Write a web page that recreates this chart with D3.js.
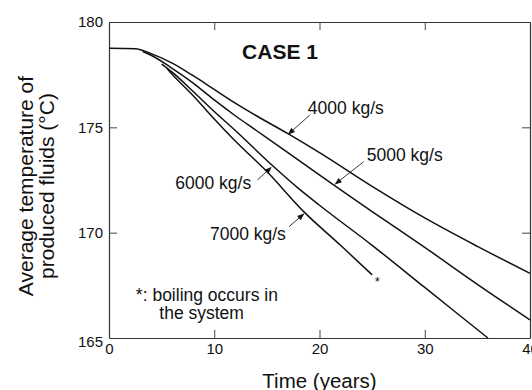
<!DOCTYPE html>
<html>
<head>
<meta charset="utf-8">
<script src="https://cdn.jsdelivr.net/npm/d3@7"></script>
<style>
  body { margin: 0; background: #fff; }
  svg { font-family: "Liberation Sans", Arial, sans-serif; }
</style>
</head>
<body>
<div class="chart"></div>
<script>
// values (time in years, temperature in °C)
const xTicks = [0, 10, 20, 30, 40];
const yTicks = [165, 170, 175, 180];

const rates = ['4000 kg/s', '5000 kg/s', '6000 kg/s', '7000 kg/s'];

const t4000 = [0, 2.5, 4, 6, 8, 10, 12, 14, 17, 20, 25, 30, 35, 40];
const T4000 = [178.75, 178.73, 178.5, 178.05, 177.45, 176.8, 176.15, 175.55, 174.7, 173.8, 172.2, 170.7, 169.35, 168.07];

const t5000 = [3.2, 4, 6, 8, 10, 12, 14, 17, 21.4, 25, 30, 35, 40];
const T5000 = [178.6, 178.42, 177.8, 177.1, 176.3, 175.55, 174.85, 173.8, 172.25, 171.0, 169.3, 167.55, 165.86];

const t6000 = [5.0, 6, 8, 10, 12, 15.5, 18, 20, 25, 30, 36];
const T6000 = [178.0, 177.62, 176.7, 175.75, 174.85, 173.2, 172.1, 171.3, 169.4, 167.4, 165.0];

const t7000 = [5.5, 6, 8, 10, 12, 15, 18.5, 22, 25];
const T7000 = [177.8, 177.52, 176.5, 175.4, 174.35, 172.9, 171.0, 169.4, 168.0];

// boiling point marker on the 7000 kg/s curve
const boilT = 25.5, boilTemp = 167.7;

// arrow labels: text anchor point, arrow start, arrow tip (data units)
const labelX = [22.5, 28.1, 9.9, 13.2];
const labelY = [175.92, 173.69, 172.37, 169.94];
const arrowFromX = [19.1, 24.2, 14.1, 17.1];
const arrowFromY = [175.59, 173.37, 172.5, 170.28];
const arrowToX = [17.05, 21.5, 15.4, 18.5];
const arrowToY = [174.68, 172.31, 173.09, 170.89];

const graphConfig = {
  width: 532, height: 390,
  margin: { top: 22, right: 2, bottom: 52, left: 109 }
};

function drawGraph() {
  const svg = d3.select('.chart')
    .append('svg')
    .attr('width', graphConfig.width)
    .attr('height', graphConfig.height);

  const m = graphConfig.margin;
  const x = d3.scaleLinear().domain([0, 40])
    .range([m.left, graphConfig.width - m.right]);
  const y = d3.scaleLinear().domain([165, 180])
    .range([graphConfig.height - m.bottom, m.top]);

  // arrow head
  svg.append('defs').append('marker')
    .attr('id', 'head')
    .attr('viewBox', '0 0 10 10')
    .attr('refX', 9).attr('refY', 5)
    .attr('markerWidth', 9).attr('markerHeight', 7)
    .attr('markerUnits', 'userSpaceOnUse')
    .attr('orient', 'auto')
    .append('path').attr('d', 'M0,1 L10,5 L0,9 Z').attr('fill', '#111');

  // axes with inward ticks on all four sides
  const inner = -8;
  const axL = svg.append('g').attr('transform', `translate(${x(0)},0)`)
    .call(d3.axisLeft(y).tickValues(yTicks).tickSizeInner(inner).tickSizeOuter(0).tickPadding(6));
  const axR = svg.append('g').attr('transform', `translate(${x(40)},0)`)
    .call(d3.axisRight(y).tickValues([170, 175]).tickSizeInner(inner).tickSizeOuter(0).tickFormat(''));
  const axB = svg.append('g').attr('transform', `translate(0,${y(165)})`)
    .call(d3.axisBottom(x).tickValues(xTicks).tickSizeInner(inner).tickSizeOuter(0).tickPadding(5));
  const axT = svg.append('g').attr('transform', `translate(0,${y(180)})`)
    .call(d3.axisTop(x).tickValues([10, 20, 30]).tickSizeInner(inner).tickSizeOuter(0).tickFormat(''));

  [axL, axR, axB, axT].forEach(a => {
    a.select('.domain').attr('stroke', '#333').attr('stroke-width', 1.2);
    a.selectAll('.tick line').attr('stroke', '#444').attr('stroke-width', 1);
    a.selectAll('.tick text').attr('font-size', 15).attr('fill', '#111')
      .attr('font-family', '"Liberation Sans", Arial, sans-serif');
  });
  // hide corner ticks on the left axis
  axL.selectAll('.tick').filter(d => d === 165 || d === 180).select('line').remove();
  axB.selectAll('.tick').filter(d => d === 0 || d === 40).select('line').remove();
  axL.selectAll('.tick').filter(d => d === 165).select('text').attr('dy', '0.55em');

  // curves
  const series = [[t4000, T4000], [t5000, T5000], [t6000, T6000], [t7000, T7000]];
  const line = d3.line()
    .x(d => x(d[0])).y(d => y(d[1]))
    .curve(d3.curveMonotoneX);

  svg.append('g')
    .selectAll('path')
    .data(series)
    .join('path')
    .attr('d', s => line(s[0].map((t, i) => [t, s[1][i]])))
    .attr('fill', 'none')
    .attr('stroke', '#111')
    .attr('stroke-width', 1.5);

  // boiling marker
  svg.append('text')
    .attr('x', x(boilT)).attr('y', y(boilTemp))
    .attr('text-anchor', 'middle').attr('dominant-baseline', 'central')
    .attr('font-size', 13).attr('fill', '#111')
    .text('*');

  // flow-rate labels with arrows
  const ann = svg.append('g');
  ann.selectAll('line')
    .data(rates)
    .join('line')
    .attr('x1', (d, i) => x(arrowFromX[i])).attr('y1', (d, i) => y(arrowFromY[i]))
    .attr('x2', (d, i) => x(arrowToX[i])).attr('y2', (d, i) => y(arrowToY[i]))
    .attr('stroke', '#222').attr('stroke-width', 0.9)
    .attr('marker-end', 'url(#head)');
  ann.selectAll('text')
    .data(rates)
    .join('text')
    .attr('x', (d, i) => x(labelX[i])).attr('y', (d, i) => y(labelY[i]))
    .attr('text-anchor', 'middle').attr('dominant-baseline', 'central')
    .attr('font-size', 17.5).attr('fill', '#111')
    .text(d => d);

  // note
  svg.append('text')
    .attr('x', x(9.3)).attr('y', y(167.04))
    .attr('text-anchor', 'middle').attr('dominant-baseline', 'central')
    .attr('font-size', 17.5).attr('fill', '#111')
    .text('*: boiling occurs in');
  svg.append('text')
    .attr('x', x(8.8)).attr('y', y(166.17))
    .attr('text-anchor', 'middle').attr('dominant-baseline', 'central')
    .attr('font-size', 17.5).attr('fill', '#111')
    .text('the system');

  // case title
  svg.append('text')
    .attr('x', 280).attr('y', 51)
    .attr('text-anchor', 'middle').attr('dominant-baseline', 'central')
    .attr('font-size', 21).attr('font-weight', 'bold').attr('fill', '#111')
    .text('CASE 1');

  // axis titles
  svg.append('text')
    .attr('x', (x(0) + x(40)) / 2).attr('y', 380)
    .attr('text-anchor', 'middle').attr('dominant-baseline', 'central')
    .attr('font-size', 20.5).attr('fill', '#111')
    .text('Time (years)');

  const yt = svg.append('text')
    .attr('transform', 'translate(0,186) rotate(-90)')
    .attr('text-anchor', 'middle')
    .attr('font-size', 21).attr('fill', '#111');
  yt.append('tspan').attr('x', 0).attr('y', 33).text('Average temperature of');
  yt.append('tspan').attr('x', 0).attr('y', 54).text('produced fluids (°C)');
}

drawGraph();
</script>
</body>
</html>
